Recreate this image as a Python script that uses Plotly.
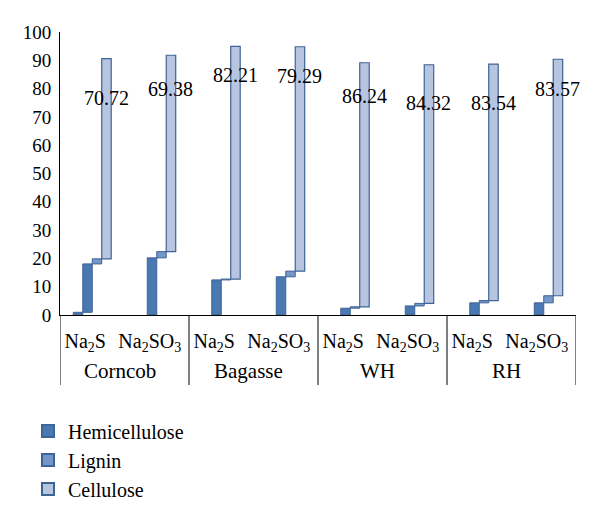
import plotly.graph_objects as go

groups = ["Corncob", "Bagasse", "WH", "RH"]
methods = ["Na<sub>2</sub>S", "Na<sub>2</sub>SO<sub>3</sub>"] * 4

extra_vals = [0.95, None, None, None, None, None, None, None]
hemicellulose = [17.1, 20.2, 12.4, 13.5, 2.4, 3.2, 4.3, 4.3]
lignin = [1.8, 2.2, 0.3, 2.0, 0.5, 0.9, 0.8, 2.5]
cellulose = [70.72, 69.38, 82.21, 79.29, 86.24, 84.32, 83.54, 83.57]
cellulose_labels = ["70.72", "69.38", "82.21", "79.29", "86.24", "84.32", "83.54", "83.57"]

# label vertical placement (data units), as in the reference
label_y = [76.6, 79.9, 84.8, 84.6, 77.5, 74.8, 74.8, 79.9]

W = 0.147
FONT = "Liberation Serif"
C_HEMI = "#4a78b3"
C_LIG = "#7596c8"
C_CELL = "#b7c5e1"
C_EDGE = "#3e6395"

pos = list(range(len(methods)))
ex0 = [v or 0 for v in extra_vals]
base_h = ex0
base_l = [a + b for a, b in zip(ex0, hemicellulose)]
base_c = [a + b for a, b in zip(base_l, lignin)]

fig = go.Figure()
fig.add_trace(go.Bar(x=pos, y=extra_vals, base=0, offset=-2 * W, width=W,
                     marker=dict(color=C_HEMI, line=dict(color=C_EDGE, width=1)),
                     showlegend=False, hoverinfo="skip"))
fig.add_trace(go.Bar(x=pos, y=hemicellulose, base=base_h, offset=-W, width=W, name="Hemicellulose",
                     marker=dict(color=C_HEMI, line=dict(color=C_EDGE, width=1))))
fig.add_trace(go.Bar(x=pos, y=lignin, base=base_l, offset=0, width=W, name="Lignin",
                     marker=dict(color=C_LIG, line=dict(color=C_EDGE, width=1))))
fig.add_trace(go.Bar(x=pos, y=cellulose, base=base_c, offset=W, width=W, name="Cellulose",
                     marker=dict(color=C_CELL, line=dict(color=C_EDGE, width=1.2))))

for i, (txt, yy) in enumerate(zip(cellulose_labels, label_y)):
    fig.add_annotation(x=i + 1.5 * W, y=yy, text=txt, showarrow=False,
                       xref="x", yref="y", yanchor="middle",
                       font=dict(family=FONT, size=20, color="black"))

# outer category labels and group dividers
for g, name in enumerate(groups):
    fig.add_annotation(x=2 * g + 0.5, y=0, xref="x", yref="paper", yanchor="middle",
                       yshift=-56, xshift=-5, text=name, showarrow=False,
                       font=dict(family=FONT, size=21, color="black"))
plot_h = 520 - 24 - 213
for k in range(len(groups) + 1):
    fig.add_shape(type="line", xref="x", yref="paper", x0=2 * k - 0.5, x1=2 * k - 0.5,
                  y0=0, y1=-70 / plot_h, line=dict(color="black", width=1))

fig.update_layout(
    width=600, height=520,
    margin=dict(l=52, r=32, t=24, b=213),
    paper_bgcolor="white", plot_bgcolor="white",
    barmode="overlay",
    font=dict(family=FONT, size=19, color="black"),
    legend=dict(x=-0.062, y=-0.341, xanchor="left", yanchor="top",
                font=dict(family=FONT, size=20, color="black"),
                tracegroupgap=0, itemsizing="constant"),
    showlegend=True,
)
fig.update_xaxes(range=[-0.5, 7.5], tickmode="array", tickvals=pos, ticktext=methods,
                 showline=True, linecolor="black", linewidth=1, showgrid=False,
                 zeroline=False, ticks="", tickangle=0, automargin=False,
                 ticklabelstandoff=8, ticklabelshift=-7,
                 tickfont=dict(family=FONT, size=20, color="black"))
fig.update_yaxes(range=[0, 100], dtick=10, showline=True, linecolor="black", linewidth=1,
                 showgrid=False, zeroline=False, ticks="", automargin=False,
                 ticklabelstandoff=4,
                 tickfont=dict(family=FONT, size=19, color="black"))

fig.write_html("out.html")
